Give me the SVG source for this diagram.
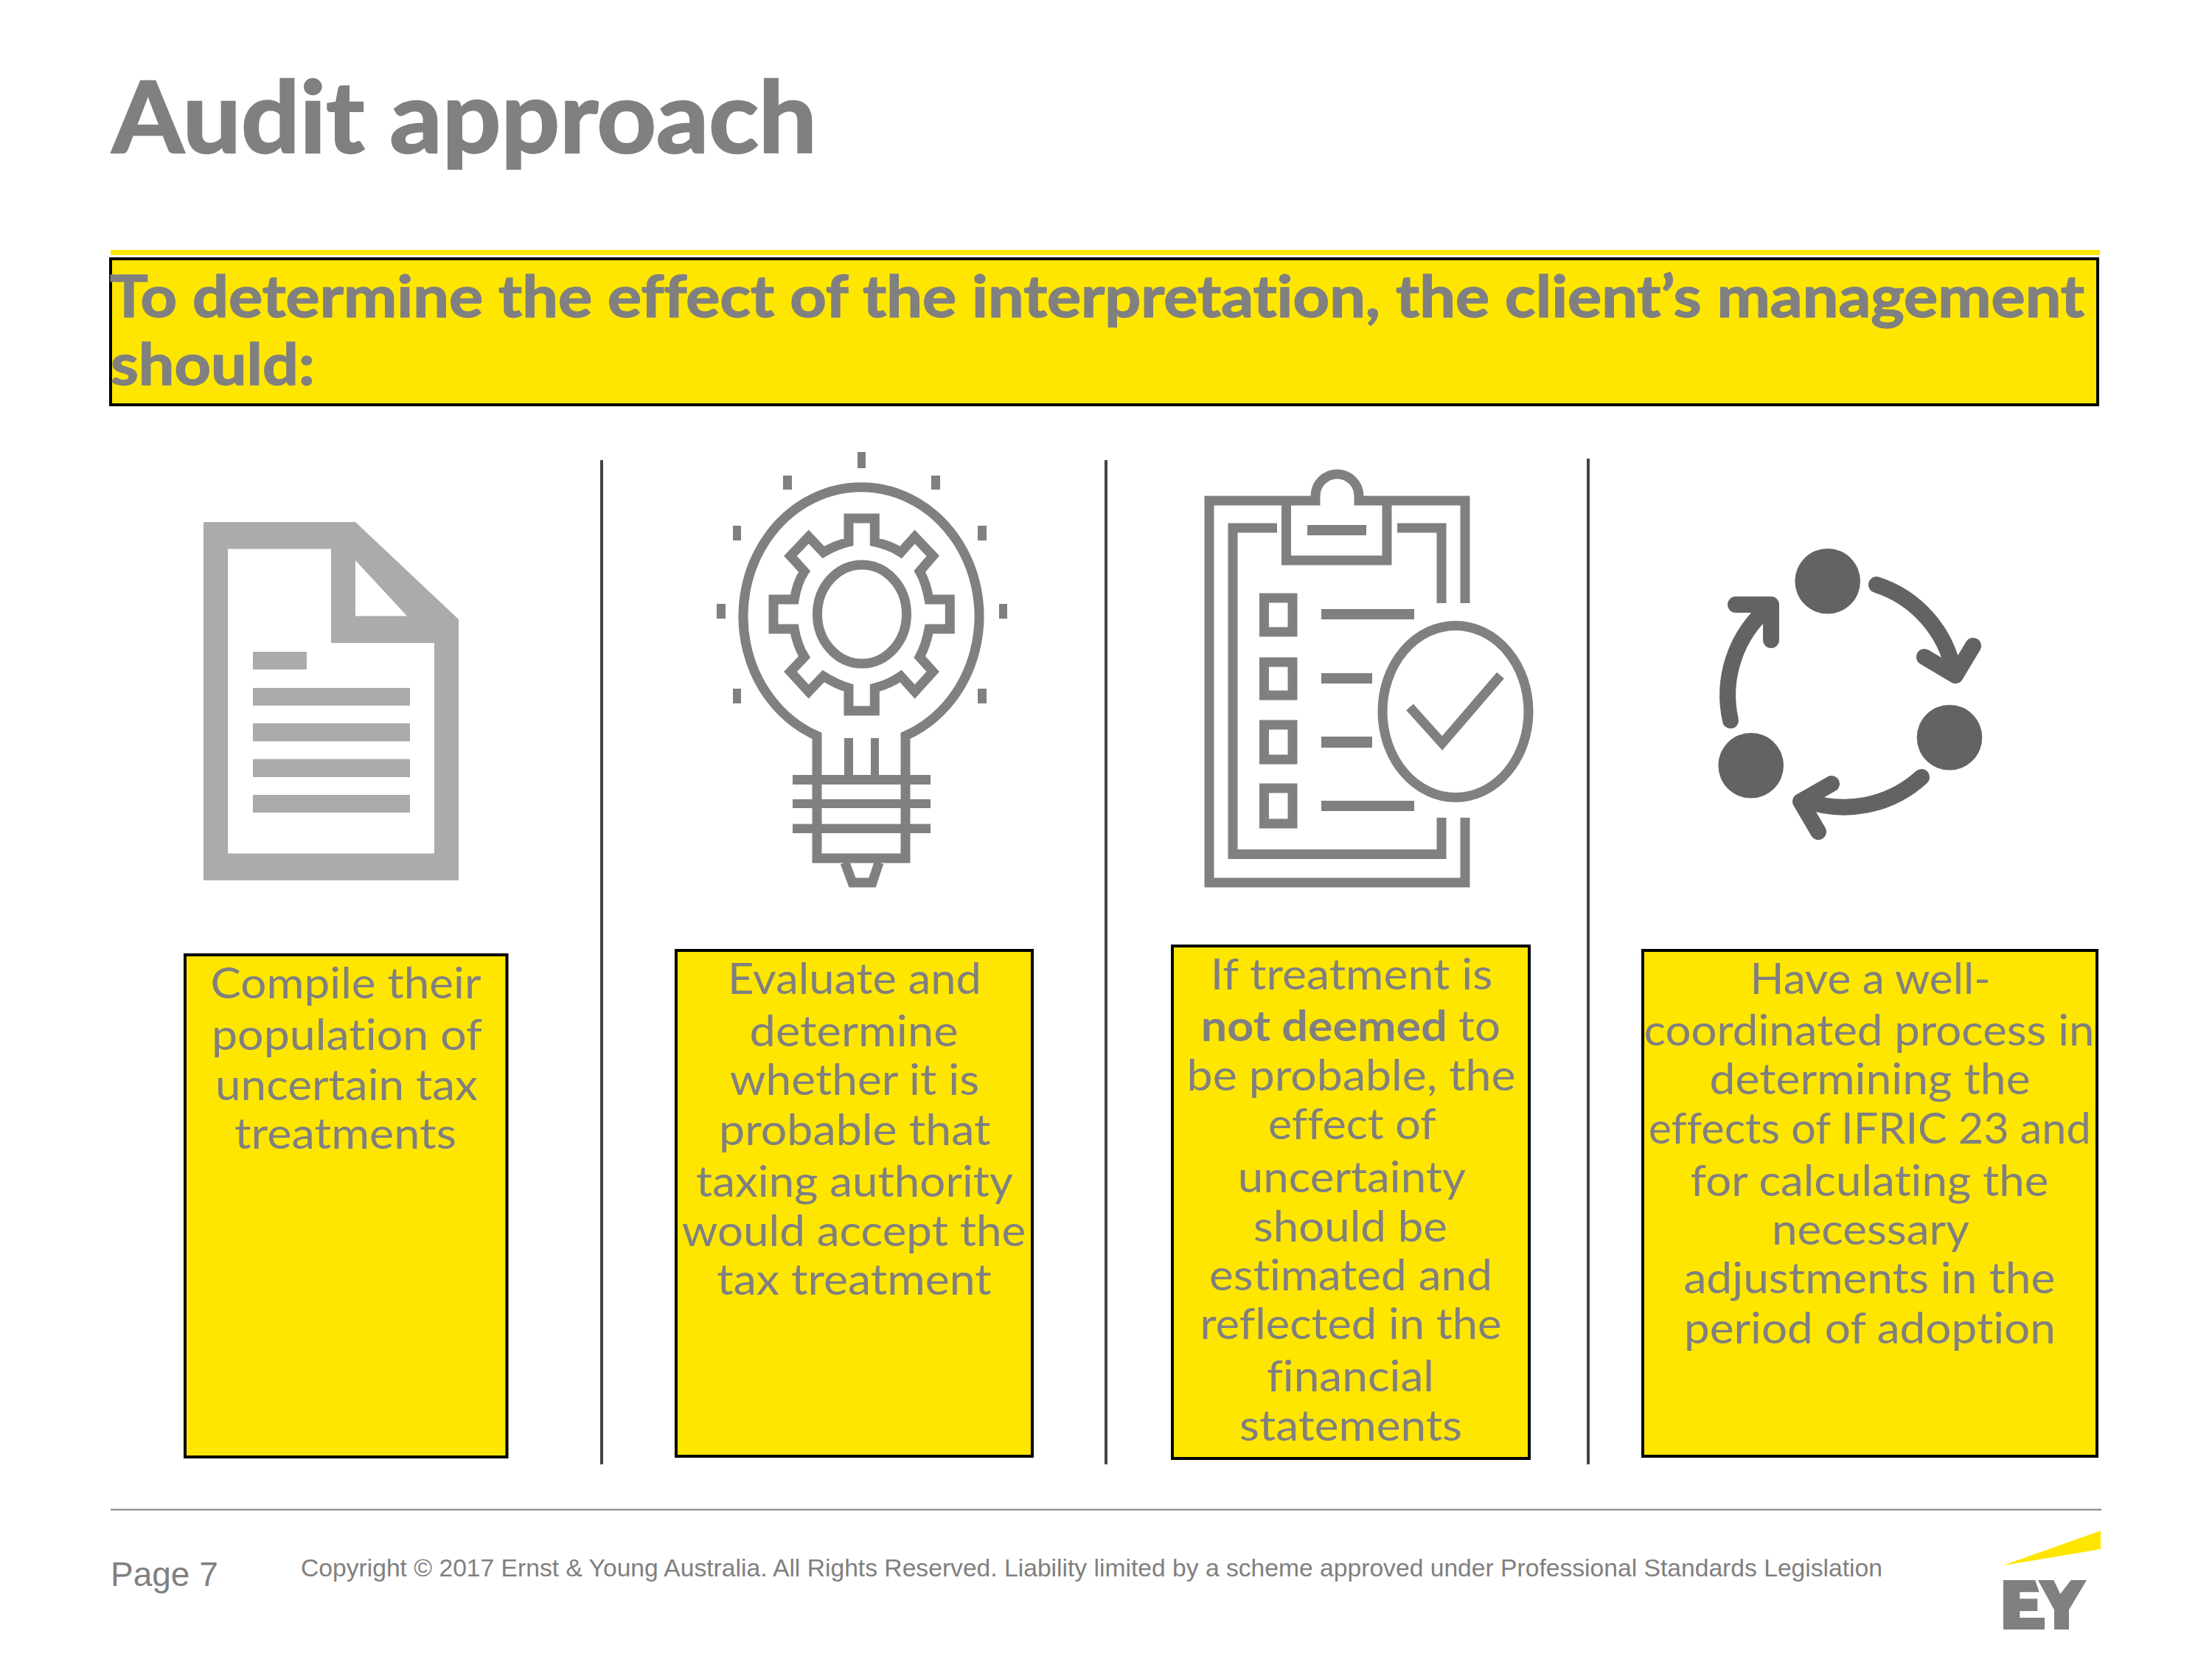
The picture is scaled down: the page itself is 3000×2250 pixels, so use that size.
<svg xmlns="http://www.w3.org/2000/svg" width="3000" height="2250" viewBox="0 0 3000 2250">
<style>
text{fill:#808080;font-family:"Lato","Carlito","Liberation Sans",sans-serif;font-variant-ligatures:none}
.body{font-size:58px}
.bold{font-weight:700}
.head{font-size:79px;font-weight:700;stroke:#808080;stroke-width:1.5}
.foot{font-family:"Liberation Sans",Arial,sans-serif}
.box{fill:#ffe600;stroke:#000;stroke-width:4}
.line{fill:none;stroke:#808080;stroke-width:13;stroke-linejoin:miter}
.fill{fill:#808080}
.doc{fill:#ababab}
.cyc{fill:none;stroke:#636363;stroke-width:22;stroke-linecap:round;stroke-linejoin:round}
.dot{fill:#636363}
</style>
<rect width="3000" height="2250" fill="#fff"/>

<g id="title"><text x="152" y="207" font-size="134" font-weight="700" stroke="#808080" stroke-width="2.500" textLength="956" lengthAdjust="spacingAndGlyphs">Audit approach</text></g>

<g id="header">
<rect x="150" y="339" width="2698" height="7" fill="#ffe600"/>
<rect class="box" x="150" y="351" width="2695" height="198"/>
<text class="head" x="149" y="430" textLength="2678" lengthAdjust="spacingAndGlyphs">To determine the effect of the interpretation, the client’s management</text>
<text class="head" x="150" y="522" textLength="277" lengthAdjust="spacingAndGlyphs">should:</text>
</g>

<g id="dividers" fill="#444444">
<rect x="814" y="624" width="4" height="1362"/>
<rect x="1498" y="624" width="4" height="1362"/>
<rect x="2152" y="622" width="4" height="1364"/>
</g>

<g id="icon-document">
<path class="doc" fill-rule="evenodd" d="M276 708H482L622 840V1194H276ZM309 744.500V1157.500H589V872H449V744.500ZM482 760V835.500H552Z"/>
<rect class="doc" x="343" y="884" width="73" height="24"/>
<rect class="doc" x="343" y="933" width="213" height="24"/>
<rect class="doc" x="343" y="981" width="213" height="24.500"/>
<rect class="doc" x="343" y="1029.500" width="213" height="24.500"/>
<rect class="doc" x="343" y="1078" width="213" height="24"/>
</g>

<g id="icon-bulb">
<g class="fill">
<rect x="1163" y="613" width="11" height="22"/>
<rect x="1062" y="645" width="12" height="19"/>
<rect x="1263" y="645" width="12" height="19"/>
<rect x="994" y="713" width="11" height="20"/>
<rect x="1326" y="713" width="12" height="20"/>
<rect x="972" y="819" width="12" height="20"/>
<rect x="1355" y="819" width="11" height="20"/>
<rect x="994" y="934" width="11" height="20"/>
<rect x="1326" y="934" width="12" height="20"/>
<rect x="1075" y="1051" width="187" height="13"/>
<rect x="1075" y="1084" width="187" height="12"/>
<rect x="1075" y="1117.500" width="187" height="12.500"/>
<rect x="1145" y="1001" width="12" height="50"/>
<rect x="1181" y="1001" width="11" height="50"/>
</g>
<path class="line" d="M1108 1164V998A160 175 0 1 1 1228 998V1164ZM1146 1170L1156 1197H1183L1192 1170"/>
<ellipse class="line" cx="1169" cy="833" rx="60.500" ry="67"/>
<path class="line" d="M1151 735V703H1186.300V735Q1206 739 1221.700 749L1240.700 728L1265.300 754L1247.300 775Q1256 790 1260 813H1288.300V853H1260Q1256 875 1247.300 891L1265.300 911L1240.700 938L1221.700 917Q1206 928 1186.300 933V964H1151V933Q1134 928 1116.700 917L1096.700 938L1072 911L1091 891Q1081 875 1077.300 853H1049V813H1077.300Q1081 790 1091 775L1072 754L1096.700 728L1116.700 749Q1134 739 1151 735Z"/>
</g>

<g id="icon-clipboard">
<path class="line" d="M1987 818V679H1843V673A29.500 30 0 0 0 1784 673V679H1640V1197H1987V1109"/>
<path class="line" d="M1744.500 679V760H1881V679"/>
<path class="line" d="M1732 716H1672V1158.500H1955V1109M1955 818V716H1895"/>
<g class="fill">
<rect x="1773" y="712" width="80" height="14"/>
<rect x="1792" y="826" width="126" height="14"/>
<rect x="1792" y="913" width="69" height="14"/>
<rect x="1792" y="999" width="69" height="15"/>
<rect x="1792" y="1086" width="126" height="14"/>
</g>
<rect class="line" x="1714.500" y="811" width="38.500" height="46"/>
<rect class="line" x="1714.500" y="898" width="38.500" height="45"/>
<rect class="line" x="1714.500" y="983" width="38.500" height="47"/>
<rect class="line" x="1714.500" y="1069" width="38.500" height="48"/>
<ellipse class="line" cx="1974" cy="965" rx="99" ry="116.500"/>
<path class="line" d="M1912 959L1956 1008L2035 916"/>
</g>

<g id="icon-cycle">
<circle class="dot" cx="2478.700" cy="788.300" r="44.300"/>
<circle class="dot" cx="2644" cy="1000.300" r="44.300"/>
<circle class="dot" cx="2374.700" cy="1038.300" r="44.300"/>
<path class="cyc" d="M2545 793A156 156 0 0 1 2650 912M2610 891L2652 916L2676 876"/>
<path class="cyc" d="M2606 1054A156 156 0 0 1 2447 1085M2484 1063L2442 1087L2466 1128"/>
<path class="cyc" d="M2347 977A156 156 0 0 1 2398 824M2354 820H2402V868"/>
</g>

<g id="box-1">
<rect class="box" x="251" y="1295" width="436.500" height="681"/>
<text class="body" x="285.500" y="1354" textLength="367" lengthAdjust="spacingAndGlyphs">Compile their</text>
<text class="body" x="287" y="1424" textLength="367" lengthAdjust="spacingAndGlyphs">population of</text>
<text class="body" x="292" y="1491.700" textLength="356" lengthAdjust="spacingAndGlyphs">uncertain tax</text>
<text class="body" x="318" y="1557.700" textLength="301" lengthAdjust="spacingAndGlyphs">treatments</text>
</g>

<g id="box-2">
<rect class="box" x="917" y="1289" width="483" height="686"/>
<text class="body" x="987" y="1347.600" textLength="344" lengthAdjust="spacingAndGlyphs">Evaluate and</text>
<text class="body" x="1016.600" y="1419" textLength="283" lengthAdjust="spacingAndGlyphs">determine</text>
<text class="body" x="989.700" y="1484.500" textLength="338.500" lengthAdjust="spacingAndGlyphs">whether it is</text>
<text class="body" x="975" y="1552.800" textLength="368.600" lengthAdjust="spacingAndGlyphs">probable that</text>
<text class="body" x="944" y="1623.400" textLength="430" lengthAdjust="spacingAndGlyphs">taxing authority</text>
<text class="body" x="924.700" y="1690" textLength="466.600" lengthAdjust="spacingAndGlyphs">would accept the</text>
<text class="body" x="972.300" y="1756" textLength="372.500" lengthAdjust="spacingAndGlyphs">tax treatment</text>
</g>

<g id="box-3">
<rect class="box" x="1590" y="1283" width="484" height="695"/>
<text class="body" x="1641.800" y="1341.700" textLength="382.600" lengthAdjust="spacingAndGlyphs">If treatment is</text>
<text class="body bold" x="1628.800" y="1411.500" textLength="334" lengthAdjust="spacingAndGlyphs">not deemed</text>
<text class="body" x="1978" y="1411.500" textLength="57" lengthAdjust="spacingAndGlyphs">to</text>
<text class="body" x="1609.600" y="1479" textLength="446" lengthAdjust="spacingAndGlyphs">be probable, the</text>
<text class="body" x="1719.900" y="1545" textLength="227.700" lengthAdjust="spacingAndGlyphs">effect of</text>
<text class="body" x="1678.800" y="1616.700" textLength="309" lengthAdjust="spacingAndGlyphs">uncertainty</text>
<text class="body" x="1700" y="1683.700" textLength="263" lengthAdjust="spacingAndGlyphs">should be</text>
<text class="body" x="1640" y="1750" textLength="384" lengthAdjust="spacingAndGlyphs">estimated and</text>
<text class="body" x="1627.500" y="1816" textLength="409" lengthAdjust="spacingAndGlyphs">reflected in the</text>
<text class="body" x="1718" y="1886.500" textLength="227" lengthAdjust="spacingAndGlyphs">financial</text>
<text class="body" x="1681" y="1954" textLength="302" lengthAdjust="spacingAndGlyphs">statements</text>
</g>

<g id="box-4">
<rect class="box" x="2228" y="1289" width="616" height="686"/>
<text class="body" x="2373.600" y="1347.500" textLength="326" lengthAdjust="spacingAndGlyphs">Have a well-</text>
<text class="body" x="2229.500" y="1417.700" textLength="611" lengthAdjust="spacingAndGlyphs">coordinated process in</text>
<text class="body" x="2318.600" y="1484" textLength="435" lengthAdjust="spacingAndGlyphs">determining the</text>
<text class="body" x="2235.700" y="1551" textLength="600" lengthAdjust="spacingAndGlyphs">effects of IFRIC 23 and</text>
<text class="body" x="2292.500" y="1622" textLength="486" lengthAdjust="spacingAndGlyphs">for calculating the</text>
<text class="body" x="2403" y="1687.700" textLength="268" lengthAdjust="spacingAndGlyphs">necessary</text>
<text class="body" x="2283.400" y="1754" textLength="504" lengthAdjust="spacingAndGlyphs">adjustments in the</text>
<text class="body" x="2283.900" y="1822" textLength="504" lengthAdjust="spacingAndGlyphs">period of adoption</text>
</g>

<g id="footer">
<rect x="150" y="2046.500" width="2700" height="2" fill="#808080"/>
<text class="foot" x="150" y="2150.700" font-size="46">Page 7</text>
<text class="foot" x="408" y="2137.700" font-size="33" textLength="2145" lengthAdjust="spacingAndGlyphs">Copyright © 2017 Ernst &amp; Young Australia. All Rights Reserved. Liability limited by a scheme approved under Professional Standards Legislation</text>
</g>

<g id="logo">
<polygon points="2716,2123.300 2849,2076 2849,2101" fill="#ffe600"/>
<polygon class="fill" points="2717,2143 2760.300,2143 2765.700,2159.300 2739.300,2159.300 2739.300,2168.300 2763.300,2168.300 2763.300,2185 2739.300,2185 2739.300,2194 2773,2194 2773,2210 2717,2210"/>
<polygon class="fill" points="2764,2143 2785.300,2143 2794.300,2161.700 2808.700,2143 2830,2143 2806,2183.300 2806,2210 2786,2210 2786,2183.300"/>
</g>
</svg>
